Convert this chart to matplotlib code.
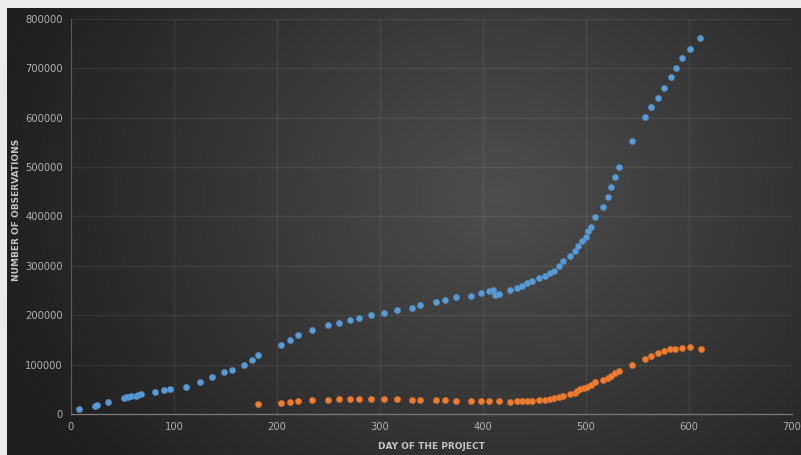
import numpy as np
import matplotlib
matplotlib.use("Agg")
import matplotlib.pyplot as plt

blue_day = [8, 23, 25.5, 36, 51, 53.4, 55.6, 58, 63, 65.3, 67.7, 82, 90, 96, 112, 125,
            137, 148.5, 156.6, 167.6, 175.4, 181.6, 203.6, 212.6, 220.4, 234.3, 249.8,
            260.5, 271.2, 279.3, 291.3, 304.2, 316.5, 331, 338.8, 354, 363.4, 374, 388,
            397.8, 405.8, 410, 411.3, 415.8, 425.9, 433, 437.9, 442.7, 447.6, 454.7,
            459.9, 464.7, 468.9, 473.8, 478, 484.2, 489.3, 492.5, 495.8, 499.7, 501.6,
            504.6, 508.7, 516.5, 521.7, 524.6, 528.2, 532, 544.7, 557.3, 563.4, 569.9,
            575.4, 582.2, 587, 592.9, 601, 611]
blue_obs = [11000, 17000, 19000, 24000, 32000, 33500, 35000, 36000, 37000, 38000, 40000,
            45000, 48000, 50000, 55000, 64000, 75000, 85000, 90000, 99000, 110000, 119000,
            140000, 149000, 159000, 171000, 180000, 185000, 190000, 195000, 200000, 205000,
            210000, 215000, 220000, 226000, 230000, 236000, 240000, 245000, 249000, 252000,
            241000, 244000, 251000, 255000, 260000, 265000, 270000, 275000, 280000, 286000,
            290000, 300000, 310000, 320000, 330000, 340000, 350000, 359000, 371000, 379000,
            399000, 420000, 440000, 460000, 480000, 500000, 553000, 601000, 621000, 640000,
            660000, 682000, 700000, 720000, 740000, 761000]

orange_day = [181.8, 203.6, 212.6, 220.4, 234.3, 249.8, 260.5, 271.2, 279.3, 291.3, 304.2,
              316.5, 330.8, 338.8, 354, 363.4, 374, 388, 397.8, 405.8, 415.8, 425.9, 433,
              437.9, 442.7, 447.6, 454.7, 459.9, 464.7, 468.9, 473.8, 478, 484.2, 489.3,
              491, 494.2, 498, 501.3, 504.5, 508.7, 516.5, 521.4, 524.6, 528.2, 532.3,
              544.3, 557.3, 563.1, 569.6, 575.7, 581.9, 586.7, 593.2, 601, 611.3]
orange_obs = [20000, 22000, 25000, 26500, 28000, 29000, 30000, 30000, 30000, 30000, 30000,
              30000, 28500, 28500, 28500, 27500, 27000, 27000, 27000, 27000, 26000, 24500,
              26500, 26500, 26500, 27000, 28000, 29000, 30500, 32000, 34500, 37000, 40000,
              42500, 46500, 50000, 53000, 55500, 58000, 65500, 69000, 73500, 76500, 83500,
              86500, 99500, 111500, 117000, 123000, 128000, 132500, 132500, 134000, 135500,
              132500]

x_ticks = [0, 100, 200, 300, 400, 500, 600, 700]
y_ticks = [0, 100000, 200000, 300000, 400000, 500000, 600000, 700000, 800000]

W, H = 801, 455
fig = plt.figure(figsize=(W / 100, H / 100), dpi=100)
fig.patch.set_facecolor("#ebebeb")

# gradient background
bg = fig.add_axes([7 / W, 0, 1 - 7 / W, 1 - 8 / H])
bg.set_axis_off()
nx, ny = 400, 230
xx, yy = np.meshgrid(np.linspace(0, 1, nx), np.linspace(0, 1, ny))
cx, cy = 0.62, 0.42
d = np.sqrt(((xx - cx) * 1.5) ** 2 + ((yy - cy) * 1.0) ** 2)
d = np.clip(d / 1.0, 0, 1)
c_in = np.array([0x4e, 0x4e, 0x4e]) / 255
c_out = np.array([0x1e, 0x1e, 0x1e]) / 255
img = c_in[None, None, :] * (1 - d[..., None]) + c_out[None, None, :] * d[..., None]
bg.imshow(img, aspect="auto", extent=[0, 1, 0, 1], origin="upper")
bg.set_xlim(0, 1)
bg.set_ylim(0, 1)

ax = fig.add_axes([71 / W, (H - 414) / H, (792 - 71) / W, (414 - 19) / H])
ax.patch.set_alpha(0)
ax.set_xlim(0, 700)
ax.set_ylim(0, 800000)
ax.set_xticks(x_ticks)
ax.set_yticks(y_ticks)
ax.set_xticklabels([str(v) for v in x_ticks])
ax.set_yticklabels([str(v) for v in y_ticks])
ax.grid(True, color="white", alpha=0.08, linewidth=0.9)
ax.set_axisbelow(True)
for s in ["top", "right"]:
    ax.spines[s].set_visible(False)
ax.spines["left"].set_color("#5a5a5a")
ax.spines["bottom"].set_color("#7a7a7a")
ax.spines["left"].set_linewidth(0.8)
ax.spines["bottom"].set_linewidth(0.9)
ax.tick_params(length=0, colors="#b0b0b0", labelsize=7.2, pad=6)

ax.scatter(blue_day, blue_obs, s=20, color="#5b9bd5", edgecolors="#4a86bd",
           linewidths=0.4, zorder=3)
ax.scatter(orange_day, orange_obs, s=20, color="#ed7d31", edgecolors="#d06a25",
           linewidths=0.4, zorder=3)

ax.set_xlabel("DAY OF THE PROJECT", color="#c4c4c4", fontsize=6.5,
              fontweight="bold")
ax.xaxis.set_label_coords((431 - 71) / (792 - 71), -(442 - 414) / (414 - 19))
ax.set_ylabel("NUMBER OF OBSERVATIONS", color="#c4c4c4", fontsize=6.5,
              fontweight="bold")
ax.yaxis.set_label_coords(-(71 - 21) / (792 - 71), (414 - 210) / (414 - 19))

fig.savefig("out.png", dpi=100, facecolor=fig.get_facecolor())
